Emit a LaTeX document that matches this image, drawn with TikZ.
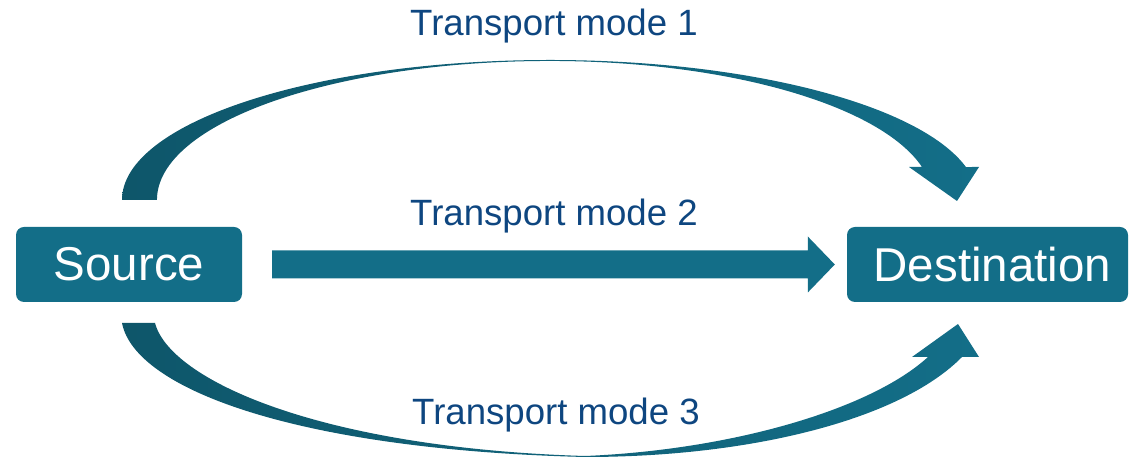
\documentclass[tikz,border=0pt]{standalone}
\usepackage{fontspec}
\setmainfont{Liberation Sans}
\usetikzlibrary{calc}
\definecolor{tealmain}{RGB}{19,110,136}
\definecolor{tealdark}{RGB}{14,86,106}
\definecolor{lblblue}{RGB}{14,70,128}
\begin{document}
\begin{tikzpicture}[x=1pt,y=1pt,
  box/.style={fill=tealmain, rounded corners=8pt, text=white, inner sep=0pt,
    font=\fontsize{47.5}{50}\selectfont, minimum height=75pt},
  lab/.style={text=lblblue, font=\fontsize{36.6}{40}\selectfont, anchor=base, inner sep=0pt},
  curvedarrow/.style={left color=tealdark, right color=tealmain, draw=none}]
\useasboundingbox (0,0) rectangle (1130,457);
\node[box, minimum width=226pt] (src) at (129,192.5) {Source};
\node[box, minimum width=281pt] (dst) at (987.5,192.5) {\hspace*{10pt}Destination};
% straight arrow from src to dst
\coordinate (ms) at ($(src.east)+(30,0)$);
\coordinate (mt) at ($(dst.west)+(-12,0)$);
\fill[tealmain] ($(ms)+(0,-14)$) -- ($(mt)+(-27,-14)$) -- ($(mt)+(-27,-28)$) -- (mt)
  -- ($(mt)+(-27,28)$) -- ($(mt)+(-27,14)$) -- ($(ms)+(0,14)$) -- cycle;
% top curved arrow
\path[curvedarrow] (122,257)
  arc[start angle=180,end angle=90,x radius=428,y radius=140]
  arc[start angle=90,end angle=13.63,x radius=428,y radius=140]
  -- (979,290) -- (957,256) -- (909,290) -- (922,290)
  arc[start angle=13.72,end angle=90,x radius=383,y radius=139]
  arc[start angle=90,end angle=180,x radius=393,y radius=139] -- cycle;
% bottom curved arrow
\path[curvedarrow] (122,134)
  .. controls (135,67) and (300,7) .. (585,0)
  .. controls (750,0) and (900,37) .. (962,100)
  -- (979,100) -- (958,133) -- (912,100) -- (928,100)
  .. controls (870,47) and (730,7) .. (585,1)
  .. controls (320,9) and (170,77) .. (155,134) -- cycle;
\node[lab] (l1) at (554,421) {Transport mode 1};
\node[lab] (l2) at (554,231) {Transport mode 2};
\node[lab] (l3) at (556,32) {Transport mode 3};
\end{tikzpicture}
\end{document}
